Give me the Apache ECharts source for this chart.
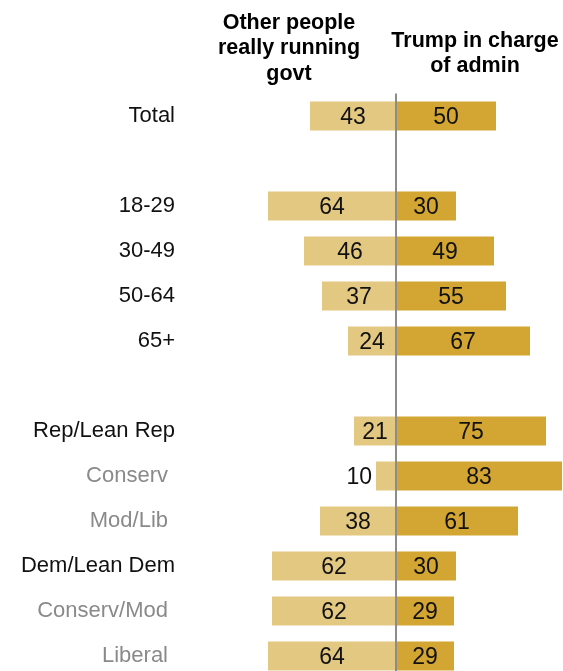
<!DOCTYPE html>
<html><head><meta charset="utf-8">
<script src="https://cdn.jsdelivr.net/npm/echarts@6/dist/echarts.min.js"></script>
<style>html,body{margin:0;padding:0;background:#fff;overflow:hidden}#c{width:563px;height:690px}</style>
</head><body><div id="c"></div>
<script>
var categories = ['Total',' ','18-29','30-49','50-64','65+','  ','Rep/Lean Rep','Conserv','Mod/Lib','Dem/Lean Dem','Conserv/Mod','Liberal'];
var subGroups = ['Conserv','Mod/Lib','Conserv/Mod','Liberal'];
var otherPeople = [43,null,64,46,37,24,null,21,10,38,62,62,64];
var trumpInCharge = [50,null,30,49,55,67,null,75,83,61,30,29,29];
var headerLeft = 'Other people\nreally running\ngovt';
var headerRight = 'Trump in charge\nof admin';

var chart = echarts.init(document.getElementById('c'), null, {renderer:'canvas'});
var FONT = '"Liberation Sans", Arial, sans-serif';
var leftData = otherPeople.map(function(v){
  if (v === null) return null;
  var item = {value: -v};
  if (v < 15) item.label = {position:'left', distance: 4};
  return item;
});
chart.setOption({
  animation:false,
  grid:{left:196, top:93.5, width:367, height:585, containLabel:false},
  xAxis:{type:'value', min:-100, max:83.5, show:false},
  yAxis:{type:'category', data:categories, inverse:true,
    axisLine:{show:false}, axisTick:{show:false}, splitLine:{show:false},
    axisLabel:{margin:21, fontFamily:FONT, fontSize:22, color:'#111',
      formatter:function(v){ return subGroups.indexOf(v)>=0 ? '{g|'+v+'}' : v; },
      rich:{g:{color:'#8a8a8a', fontFamily:FONT, fontSize:22, padding:[0,7,0,0]}}}},
  series:[
    {type:'bar', name:'Other people really running govt', data:leftData, barWidth:29, barGap:'-100%',
     itemStyle:{color:'#e3c882'},
     label:{show:true, position:'inside', offset:[0,1.5], fontFamily:FONT, fontSize:23, color:'#111',
       formatter:function(p){return Math.abs(p.value);}}},
    {type:'bar', name:'Trump in charge of admin', data:trumpInCharge, barWidth:29,
     itemStyle:{color:'#d3a532'},
     label:{show:true, position:'inside', offset:[0,1.5], fontFamily:FONT, fontSize:23, color:'#111'},
     markLine:{silent:true, symbol:'none', label:{show:false}, z:10,
       lineStyle:{color:'#8c8c8c', width:2, type:'solid'}, data:[{xAxis:0}]}}
  ],
  graphic:[
    {type:'text', position:[289,10], style:{text:headerLeft, font:'bold 21.5px '+FONT, fill:'#000', textAlign:'center', textVerticalAlign:'top', lineHeight:25.5}},
    {type:'text', position:[475,28], style:{text:headerRight, font:'bold 21.5px '+FONT, fill:'#000', textAlign:'center', textVerticalAlign:'top', lineHeight:25.5}}
  ]
});
</script></body></html>
